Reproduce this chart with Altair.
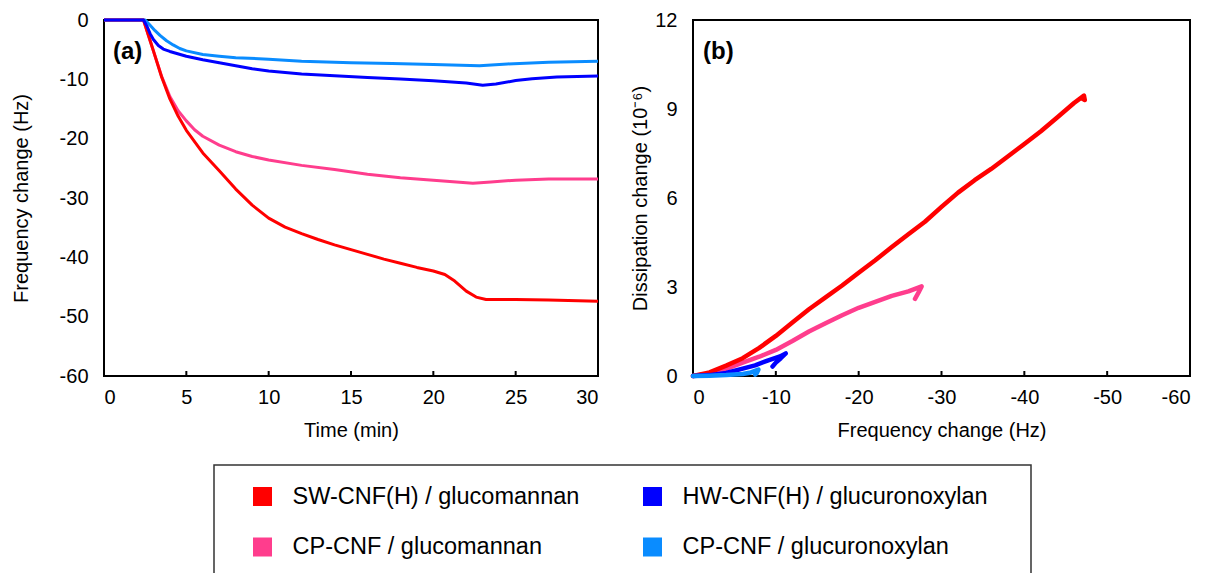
import altair as alt
import pandas as pd

FONT = "Liberation Sans"

series = [
    "SW-CNF(H) / glucomannan",
    "HW-CNF(H) / glucuronoxylan",
    "CP-CNF / glucomannan",
    "CP-CNF / glucuronoxylan",
]
colors = ["#FF0000", "#0000FF", "#FF3D8D", "#0A8CFF"]

# ---------- panel (a): frequency change vs time ----------
t_sw = [0, 2.4, 2.7, 3.0, 3.5, 4.0, 4.5, 5.0, 6.0, 7.0, 8.0, 9.0, 10.0, 11.0, 12.0,
        13.0, 14.0, 15.0, 16.0, 17.0, 18.0, 19.0, 20.0, 20.7, 21.3, 22.0, 22.6, 23.2,
        25.0, 27.0, 30.0]
f_sw = [0, 0, -2.6, -5.2, -9.6, -13.3, -16.2, -18.6, -22.4, -25.4, -28.5, -31.2, -33.4,
        -34.9, -36.0, -37.0, -37.9, -38.7, -39.5, -40.3, -41.0, -41.7, -42.3, -42.9,
        -44.0, -45.7, -46.7, -47.1, -47.1, -47.2, -47.4]

t_hw = [0, 2.4, 2.6, 2.8, 3.0, 3.3, 3.6, 4.0, 5.0, 6.0, 7.0, 8.0, 9.0, 10.0, 12.0, 14.0,
        16.0, 18.0, 20.0, 22.0, 23.0, 23.8, 25.0, 26.0, 27.5, 30.0]
f_hw = [0, 0, -1.0, -2.3, -3.3, -4.3, -4.9, -5.3, -6.1, -6.7, -7.2, -7.7, -8.2, -8.6,
        -9.1, -9.4, -9.7, -9.95, -10.25, -10.6, -11.0, -10.8, -10.2, -9.9, -9.6, -9.45]

t_cpg = [0, 2.4, 2.7, 3.0, 3.5, 4.0, 4.5, 5.0, 5.5, 6.0, 7.0, 8.0, 9.0, 10.0, 12.0, 14.0,
         16.0, 18.0, 20.0, 22.4, 23.5, 25.0, 27.0, 30.0]
f_cpg = [0, 0, -2.6, -5.2, -9.5, -12.9, -15.3, -17.0, -18.5, -19.6, -21.1, -22.2, -23.0,
         -23.6, -24.5, -25.2, -26.0, -26.6, -27.0, -27.5, -27.3, -27.0, -26.8, -26.8]

t_cpx = [0, 2.5, 2.8, 3.1, 3.4, 3.8, 4.2, 4.6, 5.0, 6.0, 7.0, 8.0, 10.0, 12.0, 15.0, 17.5,
         20.0, 22.8, 24.5, 27.0, 30.0]
f_cpx = [0, 0, -0.9, -1.8, -2.6, -3.5, -4.2, -4.8, -5.2, -5.8, -6.1, -6.35, -6.6, -6.95,
         -7.2, -7.35, -7.5, -7.7, -7.4, -7.1, -6.95]

# ---------- panel (b): dissipation change vs frequency change ----------
bf_sw = [0, -2, -4, -6, -8, -10, -12, -14, -16, -18, -20, -22, -24, -26, -28, -30, -32,
         -34, -36, -38, -40, -42, -44, -46, -47.2, -47.3, -47.0]
bd_sw = [0, 0.12, 0.35, 0.6, 0.95, 1.35, 1.8, 2.25, 2.65, 3.05, 3.48, 3.9, 4.35, 4.78,
         5.2, 5.7, 6.18, 6.6, 6.98, 7.4, 7.82, 8.25, 8.72, 9.2, 9.45, 9.3, 9.35]

bf_hw = [0, -2, -4, -6, -7.5, -9, -10.5, -11.2, -10.6, -10.0, -9.6]
bd_hw = [0, 0.03, 0.1, 0.25, 0.36, 0.52, 0.66, 0.76, 0.6, 0.45, 0.32]

bf_cpg = [0, -2, -4, -6, -8, -10, -12, -14, -16, -18, -20, -22, -24, -26, -27.6, -27.2,
          -26.8]
bd_cpg = [0, 0.08, 0.24, 0.45, 0.65, 0.88, 1.18, 1.5, 1.78, 2.05, 2.3, 2.5, 2.7, 2.85,
          3.02, 2.8, 2.6]

bf_cpx = [0, -2, -4, -6, -7, -7.9, -7.7, -7.5]
bd_cpx = [0, 0.01, 0.03, 0.07, 0.12, 0.22, 0.1, 0.05]

ticks_a = [0, 5, 10, 15, 20, 25, 30]
yticks_a = [-60, -50, -40, -30, -20, -10, 0]
ticks_b = [0, -10, -20, -30, -40, -50, -60]
yticks_b = [0, 3, 6, 9, 12]

W_A, W_B, H = 494, 497, 356

label_expr = "'' + datum.value"

xa = alt.X("t:Q", scale=alt.Scale(domain=[0, 30], nice=False),
           axis=alt.Axis(values=ticks_a, title="Time (min)", labelExpr=label_expr,
                         titleY=44))
ya = alt.Y("f:Q", scale=alt.Scale(domain=[-60, 0], nice=False),
           axis=alt.Axis(values=yticks_a, title="Frequency change (Hz)",
                         labelExpr=label_expr, titleX=-73))

draw_a = [(2, t_cpg, f_cpg), (3, t_cpx, f_cpx), (0, t_sw, f_sw), (1, t_hw, f_hw)]
layers_a = []
for idx, tt, ff in draw_a:
    df = pd.DataFrame({"t": tt, "f": ff, "i": range(len(tt))})
    layers_a.append(
        alt.Chart(df).mark_line(strokeWidth=3, color=colors[idx], strokeJoin="round")
        .encode(x=xa, y=ya, order="i:Q")
    )

tick_a_df = pd.DataFrame({"t": ticks_a[1:-1]})
tick_a = alt.Chart(tick_a_df).mark_rule(color="black", strokeWidth=2).encode(
    x=alt.X("t:Q"), y=alt.value(H), y2=alt.value(H - 5))
lab_a = alt.Chart(pd.DataFrame({"s": ["(a)"]})).mark_text(
    align="left", baseline="middle", font=FONT, fontSize=24, fontWeight="bold",
    color="black").encode(text="s:N", x=alt.value(9), y=alt.value(32))

panel_a = alt.layer(*layers_a, tick_a, lab_a).properties(width=W_A, height=H)

xb = alt.X("f:Q", scale=alt.Scale(domain=[-60, 0], nice=False, reverse=True),
           axis=alt.Axis(values=ticks_b, title="Frequency change (Hz)",
                         labelExpr=label_expr, titleY=44))
yb = alt.Y("d:Q", scale=alt.Scale(domain=[0, 12], nice=False),
           axis=alt.Axis(values=yticks_b, title="Dissipation change (10⁻⁶)",
                         labelExpr=label_expr, titleX=-43))

draw_b = [(2, bf_cpg, bd_cpg), (0, bf_sw, bd_sw), (1, bf_hw, bd_hw), (3, bf_cpx, bd_cpx)]
layers_b = []
for idx, ff, dd in draw_b:
    df = pd.DataFrame({"f": ff, "d": dd, "i": range(len(ff))})
    layers_b.append(
        alt.Chart(df).mark_line(strokeWidth=4.5, color=colors[idx], strokeJoin="round",
                                strokeCap="round")
        .encode(x=xb, y=yb, order="i:Q")
    )
tick_b_df = pd.DataFrame({"f": ticks_b[1:-1]})
tick_b = alt.Chart(tick_b_df).mark_rule(color="black", strokeWidth=2).encode(
    x=alt.X("f:Q"), y=alt.value(H), y2=alt.value(H - 5))
lab_b = alt.Chart(pd.DataFrame({"s": ["(b)"]})).mark_text(
    align="left", baseline="middle", font=FONT, fontSize=24, fontWeight="bold",
    color="black").encode(text="s:N", x=alt.value(10), y=alt.value(32))

panel_b = alt.layer(*layers_b, tick_b, lab_b).properties(width=W_B, height=H)

# ---------- legend ----------
leg_df = pd.DataFrame({
    "name": series,
    "color": colors,
    "col": [i % 2 for i in range(len(series))],
    "row": [i // 2 for i in range(len(series))],
})
leg_base = alt.Chart(leg_df).encode(
    x=alt.X("col:Q", scale=alt.Scale(domain=[0, 1], range=[48.5, 438.5]), axis=None),
    y=alt.Y("row:Q", scale=alt.Scale(domain=[0, 1], range=[31.5, 82]), axis=None),
)
leg_sq = leg_base.mark_square(size=361, opacity=1).encode(
    color=alt.Color("color:N", scale=None))
leg_tx = leg_base.mark_text(align="left", baseline="middle", dx=30, font=FONT,
                            fontSize=23.5, color="black").encode(text="name:N")
legend = alt.layer(leg_sq, leg_tx).properties(
    width=817, height=120,
    view=alt.ViewBackground(stroke="#333333", strokeWidth=1.5))

spacer = alt.Chart(pd.DataFrame({"v": [0]})).mark_point(opacity=0).encode(
    x=alt.value(0), y=alt.value(0)).properties(
    width=98, height=10, view=alt.ViewBackground(stroke="transparent"))

top = alt.hconcat(panel_a, panel_b, spacing=28)
bottom = alt.hconcat(spacer, legend, spacing=10)

chart = alt.vconcat(top, bottom, spacing=20).properties(
    padding={"left": 2, "top": 1, "right": 5, "bottom": 5}
).configure_view(
    stroke="black", strokeWidth=2
).configure_axis(
    grid=False, domain=False, ticks=False, tickSize=0,
    labelFont=FONT, labelFontSize=20, labelColor="black", labelPadding=11,
    titleFont=FONT, titleFontSize=20, titleFontWeight="normal", titleColor="black",
).configure_axisLeft(
    labelPadding=16
)

chart.save("out.html", embed_options={"renderer": "svg", "actions": False})
